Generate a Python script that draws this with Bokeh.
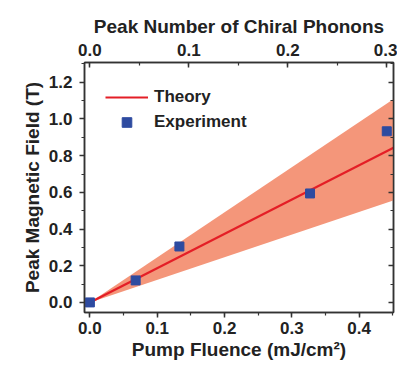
from bokeh.plotting import figure
from bokeh.models import (Range1d, LinearAxis, SingleIntervalTicker, NumeralTickFormatter,
                          CustomJSTickFormatter, ColumnDataSource, Legend, LegendItem)
from bokeh.embed import file_html
from bokeh.resources import INLINE

# ---- data ----
fluence_exp = [0.0, 0.068, 0.133, 0.327, 0.441]
field_exp = [0.0, 0.12, 0.305, 0.594, 0.933]

fluence_theory = [0.0, 0.46]
field_theory = [0.0, 0.86]
field_upper = [0.0, 1.13]
field_lower = [0.0, 0.567]

phonons_per_fluence = 0.68  # top axis scale (peak number per mJ/cm^2)

x_range = (-0.008, 0.451)
y_range = (-0.055, 1.308)

FONT = "Liberation Sans"
TXT = "#222222"
AX = "#333333"

p = figure(frame_width=309, frame_height=250, output_backend="svg", toolbar_location=None,
           x_range=Range1d(*x_range), y_range=Range1d(*y_range),
           min_border_left=84, min_border_top=62, min_border_right=4, min_border_bottom=58,
           x_axis_location=None, y_axis_location=None)
p.grid.visible = False
p.outline_line_color = AX
p.outline_line_width = 1.5
p.background_fill_color = "white"
p.border_fill_color = "white"

p.extra_x_ranges = {"top": Range1d(x_range[0] * phonons_per_fluence, x_range[1] * phonons_per_fluence)}

band = ColumnDataSource(dict(x=fluence_theory, lo=field_lower, hi=field_upper))
p.varea(x="x", y1="lo", y2="hi", source=band, fill_color="#F4967A", fill_alpha=1.0)
r_line = p.line(fluence_theory, field_theory, line_color="#E41E26", line_width=2.2)
r_pts = p.scatter(fluence_exp, field_exp, marker="square", size=9, fill_color="#2E4BA0",
                  line_color="#2E4BA0")


def style(ax, title=None, tick_in=False, show_labels=True):
    ax.axis_line_color = AX
    ax.axis_line_width = 1.5
    ax.major_tick_line_color = AX
    ax.minor_tick_line_color = AX
    ax.major_tick_line_width = 1.5
    ax.minor_tick_line_width = 1.2
    if tick_in:
        ax.major_tick_in, ax.major_tick_out = 5, 0
        ax.minor_tick_in, ax.minor_tick_out = 3, 0
    else:
        ax.major_tick_in, ax.major_tick_out = 0, 5
        ax.minor_tick_in, ax.minor_tick_out = 0, 3
    ax.major_label_text_font = FONT
    ax.major_label_text_font_style = "bold"
    ax.major_label_text_color = TXT
    ax.major_label_text_font_size = "17px"
    if show_labels:
        ax.formatter = NumeralTickFormatter(format="0.0")
    else:
        ax.formatter = CustomJSTickFormatter(code="return ''")
    if title:
        ax.axis_label = title
        ax.axis_label_text_font = FONT
        ax.axis_label_text_font_style = "bold"
        ax.axis_label_text_font_size = "19px"
        ax.axis_label_text_color = TXT


bottom = LinearAxis(ticker=SingleIntervalTicker(interval=0.1, num_minor_ticks=2))
style(bottom, "Pump Fluence (mJ/cm²)")
bottom.major_label_standoff = 4
bottom.axis_label_standoff = 2
p.add_layout(bottom, "below")

left = LinearAxis(ticker=SingleIntervalTicker(interval=0.2, num_minor_ticks=2))
style(left, "Peak Magnetic Field (T)")
left.major_label_standoff = 7
left.axis_label_standoff = 3
p.add_layout(left, "left")

top = LinearAxis(x_range_name="top", ticker=SingleIntervalTicker(interval=0.1, num_minor_ticks=2))
style(top, "Peak Number of Chiral Phonons", tick_in=True)
top.major_label_standoff = 7
top.axis_label_standoff = 4
p.add_layout(top, "above")

right = LinearAxis(ticker=SingleIntervalTicker(interval=0.2, num_minor_ticks=2))
style(right, None, tick_in=True, show_labels=False)
right.major_label_standoff = 0
p.add_layout(right, "right")

legend = Legend(items=[LegendItem(label="Theory", renderers=[r_line]),
                       LegendItem(label="Experiment", renderers=[r_pts])],
                location=(21, 178))
legend.margin = 0
legend.padding = 0
legend.spacing = 1
legend.glyph_width = 43
legend.glyph_height = 24
legend.label_height = 24
legend.label_standoff = 6
legend.label_text_font = FONT
legend.label_text_font_style = "bold"
legend.label_text_font_size = "17px"
legend.label_text_color = TXT
legend.border_line_color = None
legend.background_fill_alpha = 0
p.add_layout(legend)

open("out.html", "w").write(file_html(p, INLINE))
